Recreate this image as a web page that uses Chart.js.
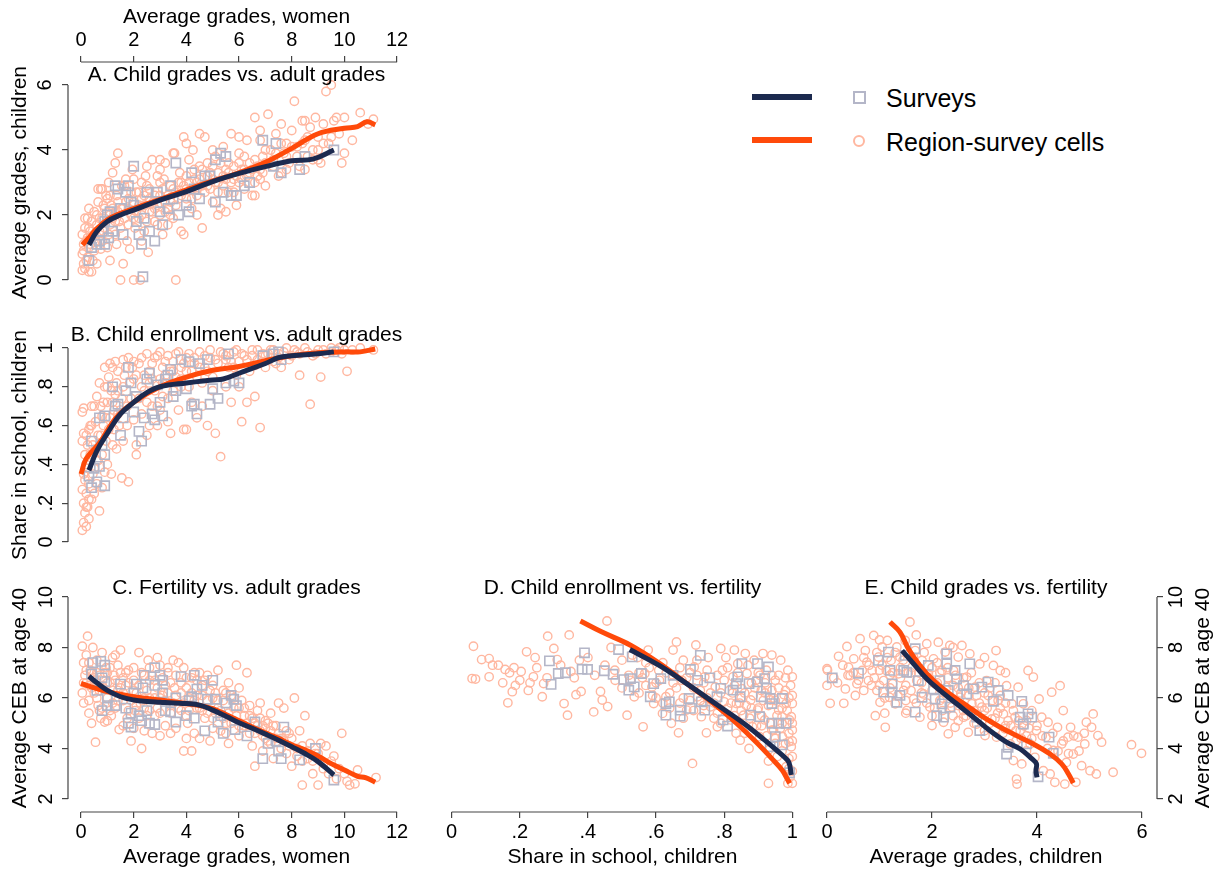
<!DOCTYPE html>
<html><head><meta charset="utf-8">
<script src="https://cdn.jsdelivr.net/npm/chart.js@4.4.1/dist/chart.umd.min.js"></script>
<style>
html,body{margin:0;padding:0;background:#fff;width:1224px;height:871px;overflow:hidden;position:relative;font-family:"Liberation Sans",Arial,Helvetica,sans-serif;}
canvas{position:absolute;}
.lg{position:absolute;}
.lt{position:absolute;font-size:25px;color:#000;line-height:30px;white-space:nowrap;}
</style></head><body>
<div class="lg" style="left:752px;top:94px;width:60px;height:6px;background:#1c2a4f"></div>
<div class="lg" style="left:853px;top:91px;width:9px;height:9px;border:2px solid #b4b6c8"></div>
<div class="lt" style="left:886px;top:83px">Surveys</div>
<div class="lg" style="left:752px;top:137px;width:60px;height:6px;background:#ff4a0a"></div>
<div class="lg" style="left:853px;top:135px;width:8px;height:8px;border:2px solid #ffb7a0;border-radius:50%"></div>
<div class="lt" style="left:886px;top:127px">Region-survey cells</div>
<script>
// ---------- tick values and labels ----------
const gradesWomenTicks = [0,2,4,6,8,10,12];
const gradesWomenLabels = ['0','2','4','6','8','10','12'];
const childGradesTicks = [0,2,4,6];
const childGradesLabels = ['0','2','4','6'];
const shareTicks = [0,0.2,0.4,0.6,0.8,1];
const shareLabels = ['0','.2','.4','.6','.8','1'];
const cebTicks = [2,4,6,8,10];
const cebLabels = ['2','4','6','8','10'];

// ---------- Panel A: child grades vs adult grades ----------
const A_survLine = [0.3,1.08, 0.6,1.49, 1.0,1.8, 1.5,2.0, 2.0,2.15, 3.0,2.46, 4.0,2.72, 5.0,3.03, 6.0,3.28, 7.0,3.49, 8.0,3.67, 8.8,3.72, 9.6,4.0];
const A_cellLine = [0.05,1.08, 0.3,1.3, 0.6,1.58, 1.0,1.85, 1.5,2.05, 2.0,2.2, 3.0,2.48, 4.0,2.77, 5.0,3.05, 6.0,3.3, 7.0,3.62, 8.0,4.05, 9.0,4.5, 10.0,4.67, 10.5,4.72, 10.86,4.87, 11.17,4.77];
const A_surv = [0.3,0.6, 0.4,1.0, 0.6,1.1, 0.7,1.2, 0.8,1.5, 0.9,1.8, 1.0,2.0, 1.05,1.3, 1.2,1.5, 1.3,2.9, 1.4,2.8, 1.5,2.2, 1.6,1.4, 1.7,2.7, 1.8,2.9, 1.9,2.4, 2.0,3.5, 2.0,2.3, 2.1,1.8, 2.2,1.4, 2.3,1.1, 2.35,0.1, 2.4,1.9, 2.5,2.7, 2.6,1.5, 2.8,1.2, 3.0,2.1, 3.1,1.7, 3.3,2.2, 3.4,2.9, 3.6,3.6, 3.7,2.0, 4.0,2.3, 4.1,2.1, 4.2,3.3, 4.3,2.8, 4.5,2.5, 4.7,3.2, 5.1,3.7, 5.1,2.4, 5.3,3.9, 5.4,2.7, 5.5,3.8, 5.7,2.6, 5.9,2.6, 6.2,2.9, 6.4,3.0, 6.9,4.3, 7.3,3.5, 7.4,4.2, 7.6,3.3, 8.3,3.4, 8.5,3.8, 9.6,4.0, 3.5,2.5, 2.9,2.7, 4.9,3.2, 1.1,2.1, 0.9,1.1];
const A_cells = [0.05,0.3, 0.1,0.5, 0.15,0.35, 0.1,0.9, 0.2,1.2, 0.05,1.4, 0.15,1.6, 0.3,0.25, 0.25,0.7, 0.3,1.0, 0.35,1.5, 0.4,1.8, 0.45,1.3, 0.5,2.1, 0.5,0.9, 0.6,1.7, 0.65,2.4, 0.7,1.2, 0.75,2.8, 0.8,1.9, 0.85,1.5, 0.9,2.2, 0.95,2.6, 1.0,1.0, 1.05,3.0, 1.1,1.7, 1.15,2.3, 1.2,3.3, 1.25,2.0, 1.3,1.4, 1.35,2.6, 1.4,3.9, 1.45,1.8, 1.5,0.0, 1.55,2.9, 1.6,0.5, 1.7,3.1, 1.75,1.2, 1.8,2.5, 1.85,0.95, 1.9,2.0, 1.95,3.4, 2.0,0.0, 2.05,1.6, 2.1,2.7, 2.2,2.3, 2.25,0.0, 2.3,3.0, 2.4,1.5, 2.5,2.9, 2.55,0.85, 2.6,2.1, 2.7,3.7, 2.75,2.4, 2.8,1.8, 2.9,3.2, 3.0,2.6, 3.1,1.4, 3.2,3.6, 3.3,2.2, 3.4,2.9, 3.5,1.9, 3.55,3.9, 3.6,0.0, 3.7,2.5, 3.75,3.3, 3.8,1.5, 3.9,4.4, 4.0,2.8, 4.1,3.7, 4.2,2.2, 4.25,4.0, 4.3,3.1, 4.4,2.6, 4.5,3.5, 4.6,1.6, 4.7,4.4, 4.8,2.9, 4.9,3.3, 5.0,2.4, 5.1,3.8, 5.2,3.0, 5.3,2.2, 5.4,4.1, 5.5,3.4, 5.6,2.7, 5.7,4.5, 5.8,3.1, 5.9,2.3, 6.0,3.9, 6.1,3.4, 6.2,2.8, 6.3,4.3, 6.4,3.6, 6.5,2.6, 6.6,5.0, 6.7,3.2, 6.8,4.6, 6.9,3.8, 7.0,2.9, 7.1,5.1, 7.2,4.0, 7.3,3.5, 7.4,4.5, 7.5,3.2, 7.6,4.8, 7.7,3.9, 7.8,4.2, 7.9,3.6, 8.0,4.6, 8.1,5.5, 8.2,4.1, 8.3,3.5, 8.4,4.9, 8.5,4.3, 8.6,3.8, 8.7,4.7, 8.8,4.0, 8.9,5.0, 9.0,4.4, 9.1,3.6, 9.2,4.8, 9.3,5.8, 9.4,4.2, 9.5,6.0, 9.6,4.9, 9.7,5.0, 9.8,4.5, 9.9,3.6, 10.0,5.0, 10.0,3.9, 10.3,4.3, 10.6,5.15, 11.1,4.95, 9.0,3.7, 8.5,4.9, 10.9,4.8, 1.2,1.9, 1.4,2.1, 1.6,2.2, 1.8,1.7, 2.0,2.4, 2.2,1.9, 2.4,2.6, 2.6,2.8, 2.8,2.2, 3.0,3.0, 3.2,2.4, 3.4,2.0, 3.6,2.7, 3.8,3.0, 4.0,3.2, 4.2,2.5, 4.4,3.0, 4.6,2.9, 4.8,3.6, 5.0,3.1, 5.2,2.7, 5.4,3.2, 5.6,3.6, 5.8,2.7, 6.0,3.0, 6.2,3.8, 6.4,3.3, 6.6,3.0, 6.8,3.4, 7.0,3.6, 0.3,1.6, 0.5,1.4, 0.7,1.9, 0.9,1.6, 1.1,2.1, 0.6,0.5, 0.4,0.25, 0.8,2.8, 1.0,2.5, 1.3,3.6, 2.3,1.2, 2.9,1.7, 3.3,1.7, 3.9,1.4, 4.4,2.0, 5.2,2.0, 5.5,2.1, 2.5,3.5, 3.0,3.7, 3.5,3.9, 4.0,4.2, 4.5,4.5, 5.0,4.0, 6.0,4.4, 6.8,4.3, 7.3,3.7, 7.8,3.4, 8.5,3.4, 6.6,2.6, 7.6,3.3,
  0.1,1.1, 0.2,0.6, 0.25,1.9, 0.35,1.1, 0.45,0.6, 0.55,1.2, 0.6,2.0, 0.7,1.5, 0.8,1.2, 0.85,2.3, 0.95,1.8, 1.05,1.4, 1.1,2.6, 1.2,2.2, 1.3,1.8, 1.4,2.4, 1.5,1.6, 1.55,2.2, 1.65,1.9, 1.7,2.4, 1.8,2.2, 1.9,2.7, 2.0,1.9, 2.1,2.1, 2.2,2.7, 2.3,2.0, 2.4,2.3, 2.5,1.8, 2.6,2.5, 2.7,2.1, 2.8,2.6, 2.9,2.3, 3.0,2.0, 3.1,2.8, 3.2,2.1, 3.3,2.6, 3.4,2.4, 3.5,2.8, 3.6,2.3, 3.7,3.0, 3.8,2.6, 3.9,2.9, 4.0,2.5, 4.1,3.0, 4.2,2.8, 4.3,3.4, 4.4,2.8, 4.5,3.1, 4.6,3.4, 4.7,2.7, 4.8,3.2, 4.9,2.8, 5.0,3.5, 5.1,3.0, 5.2,3.3, 5.3,3.6, 5.4,2.9, 5.5,3.1, 5.6,3.3, 5.7,3.0, 5.8,3.5, 5.9,3.2, 6.0,3.6, 6.1,3.1, 6.2,3.4, 6.3,3.2, 6.5,3.4, 6.6,3.7, 6.7,3.5, 6.8,3.1, 6.9,3.3, 7.0,4.0, 7.2,3.6, 7.4,3.9, 7.6,4.2, 7.8,3.8, 8.0,4.1, 8.2,3.8, 8.4,4.2, 8.6,4.4, 8.8,3.7, 9.0,4.0, 9.2,4.2, 9.5,4.4, 0.15,1.9, 0.25,1.3, 0.05,0.8, 0.3,2.2, 0.65,2.8, 0.75,0.95, 1.1,0.6, 1.35,1.1, 1.65,2.9, 2.0,3.1, 2.3,2.5, 2.45,3.2, 3.0,3.4, 3.15,3.1];

// ---------- Panel B: child enrollment vs adult grades ----------
const B_survLine = [0.3,0.37, 0.6,0.47, 1.0,0.56, 1.5,0.66, 2.0,0.72, 2.5,0.77, 3.0,0.80, 4.0,0.82, 5.0,0.835, 5.4,0.84, 6.0,0.87, 7.0,0.92, 7.5,0.95, 8.0,0.96, 9.0,0.97, 9.6,0.98];
const B_cellLine = [0.0,0.35, 0.2,0.43, 0.7,0.51, 1.33,0.64, 2.0,0.72, 3.0,0.80, 4.0,0.85, 5.0,0.885, 6.0,0.905, 7.0,0.935, 8.0,0.96, 9.0,0.975, 10.0,0.98, 10.6,0.98, 11.17,0.995];
const B_surv = [0.3,0.34, 0.4,0.28, 0.6,0.31, 0.5,0.38, 0.7,0.39, 0.9,0.29, 0.9,0.45, 0.8,0.5, 0.4,0.52, 0.7,0.64, 0.9,0.65, 1.2,0.8, 1.3,0.7, 1.4,0.71, 1.5,0.55, 1.6,0.64, 1.8,0.9, 1.7,0.78, 1.9,0.82, 2.1,0.75, 2.2,0.57, 2.3,0.52, 2.4,0.64, 2.5,0.84, 2.6,0.87, 2.7,0.66, 2.8,0.63, 3.0,0.72, 3.1,0.65, 3.2,0.84, 3.3,0.86, 3.4,0.89, 3.5,0.75, 3.6,0.78, 3.8,0.94, 4.0,0.79, 4.1,0.93, 4.2,0.7, 4.3,0.71, 4.4,0.66, 4.5,0.92, 4.8,0.94, 4.9,0.71, 5.0,0.79, 5.2,0.74, 5.5,0.82, 5.8,0.83, 6.0,0.82, 5.6,0.97, 6.9,0.96, 7.3,0.97, 7.5,0.98, 7.6,0.94, 9.6,0.98, 2.0,0.67, 2.9,0.81];
const B_cells = [0.05,0.06, 0.1,0.1, 0.15,0.15, 0.2,0.08, 0.1,0.2, 0.05,0.27, 0.2,0.25, 0.15,0.32, 0.25,0.18, 0.3,0.12, 0.05,0.52, 0.1,0.56, 0.05,0.67, 0.1,0.69, 0.2,0.4, 0.3,0.3, 0.35,0.45, 0.4,0.22, 0.45,0.5, 0.5,0.38, 0.55,0.62, 0.6,0.3, 0.65,0.55, 0.7,0.16, 0.75,0.7, 0.8,0.45, 0.85,0.6, 0.9,0.8, 0.95,0.52, 1.0,0.72, 1.05,0.85, 1.1,0.64, 1.15,0.35, 1.2,0.9, 1.25,0.58, 1.3,0.76, 1.35,0.48, 1.4,0.88, 1.5,0.68, 1.55,0.33, 1.6,0.8, 1.7,0.9, 1.75,0.6, 1.8,0.31, 1.9,0.74, 2.0,0.84, 2.1,0.5, 2.2,0.92, 2.3,0.66, 2.4,0.78, 2.5,0.55, 2.6,0.88, 2.7,0.7, 2.8,0.95, 2.9,0.6, 3.0,0.84, 3.1,0.75, 3.2,0.93, 3.3,0.62, 3.4,0.88, 3.5,0.78, 3.6,0.97, 3.7,0.68, 3.8,0.9, 3.9,0.58, 4.0,0.95, 4.1,0.8, 4.2,0.72, 4.3,0.92, 4.4,0.85, 4.5,0.98, 4.6,0.7, 4.7,0.9, 4.8,0.6, 4.9,0.95, 5.0,0.85, 5.1,0.56, 5.2,0.92, 5.3,0.44, 5.4,0.97, 5.5,0.8, 5.6,0.9, 5.7,0.72, 5.8,0.98, 5.9,0.86, 6.0,0.93, 6.1,0.62, 6.2,0.96, 6.4,0.88, 6.5,0.99, 6.6,0.75, 6.7,0.94, 6.8,0.59, 6.9,0.97, 7.0,0.9, 7.2,0.99, 7.3,0.93, 7.5,0.97, 7.6,0.9, 7.8,1.0, 8.0,0.96, 8.2,0.98, 8.3,0.86, 8.5,1.0, 8.7,0.71, 8.8,0.96, 9.0,0.99, 9.1,0.85, 9.3,0.97, 9.5,1.0, 9.7,0.99, 9.9,0.97, 10.1,0.88, 10.3,0.99, 10.6,1.0, 11.1,0.99, 0.4,0.6, 0.6,0.42, 0.8,0.28, 0.3,0.58, 1.0,0.4, 1.2,0.5, 1.4,0.66, 1.6,0.52, 2.0,0.63, 2.2,0.74, 2.4,0.86, 2.6,0.6, 2.8,0.78, 3.0,0.68, 3.2,0.82, 3.5,0.88, 3.8,0.8, 4.2,0.88, 4.6,0.82, 5.0,0.78, 5.5,0.94, 6.0,0.8, 6.3,0.72, 7.0,0.96, 0.9,0.36, 0.5,0.25, 0.25,0.5, 1.3,0.93, 2.1,0.45, 3.4,0.56, 4.4,0.64, 4.0,0.58, 1.8,0.95, 3.0,0.98,
  2.0,0.93, 2.3,0.95, 2.5,0.97, 2.7,0.92, 2.9,0.96, 3.1,0.9, 3.3,0.96, 3.5,0.93, 3.7,0.98, 3.9,0.92, 4.1,0.97, 4.3,0.95, 4.5,0.9, 4.7,0.96, 4.9,0.99, 5.1,0.94, 5.3,0.98, 5.5,0.96, 5.7,0.93, 5.9,0.99, 6.1,0.97, 6.3,0.94, 6.5,0.96, 6.7,0.99, 6.9,0.93, 7.1,0.97, 7.3,0.99, 7.5,0.95, 7.7,0.98, 7.9,0.94, 8.1,0.99, 8.3,0.97, 8.6,0.98, 8.9,0.97, 9.2,0.99, 9.5,0.98, 9.8,1.0, 10.0,0.99, 3.8,0.84, 4.8,0.88, 5.8,0.9, 6.6,0.91, 7.4,0.92, 2.6,0.82, 3.2,0.86, 4.0,0.88, 0.15,0.45, 0.25,0.38, 0.35,0.6, 0.45,0.35, 0.55,0.48, 0.65,0.42, 0.75,0.55, 0.85,0.72, 0.95,0.64, 1.05,0.58, 1.15,0.78, 1.25,0.68, 1.35,0.82, 1.45,0.6, 1.55,0.74, 1.65,0.86, 1.75,0.7, 1.85,0.82, 1.95,0.9, 0.5,0.7, 0.7,0.82, 0.9,0.9, 1.1,0.92, 0.3,0.42, 0.2,0.55, 0.4,0.7, 0.6,0.75, 0.8,0.65, 1.0,0.8, 1.2,0.72, 1.4,0.78, 1.6,0.94, 2.1,0.86, 2.3,0.8, 2.5,0.72, 2.7,0.84, 2.9,0.7, 3.1,0.82, 3.3,0.74, 3.6,0.85, 0.1,0.35, 0.2,0.18, 0.3,0.22];

// ---------- Panel C: fertility vs adult grades ----------
const C_survLine = [0.3,6.86, 0.6,6.6, 1.0,6.3, 1.5,6.05, 2.0,5.92, 2.5,5.86, 3.0,5.83, 3.5,5.8, 4.0,5.78, 4.5,5.72, 5.0,5.52, 5.5,5.28, 6.0,5.02, 6.5,4.8, 7.0,4.57, 7.5,4.33, 8.0,4.07, 8.5,3.8, 9.0,3.48, 9.6,2.95];
const C_cellLine = [0.0,6.58, 0.5,6.4, 1.0,6.25, 1.5,6.15, 2.0,6.05, 3.0,5.92, 4.0,5.78, 4.5,5.7, 5.0,5.58, 5.5,5.35, 6.0,5.1, 6.5,4.85, 7.0,4.62, 7.5,4.4, 8.0,4.15, 8.5,3.95, 9.0,3.7, 9.5,3.4, 10.0,3.15, 10.5,2.9, 10.8,2.85, 11.17,2.66];
const C_surv = [0.45,7.4, 0.75,7.45, 0.9,7.3, 0.4,6.95, 0.6,6.3, 0.8,6.8, 0.9,6.65, 1.0,6.0, 0.8,5.5, 1.0,5.7, 1.3,5.7, 1.5,6.55, 1.7,5.6, 1.8,5.0, 1.9,4.85, 1.9,5.4, 2.0,6.2, 2.1,6.55, 2.2,5.3, 2.3,5.1, 2.35,6.4, 2.4,6.9, 2.5,5.5, 2.6,5.0, 2.8,7.2, 2.8,6.5, 2.8,4.95, 3.0,6.9, 3.1,6.7, 3.1,6.2, 3.2,5.5, 3.4,5.45, 3.6,5.05, 3.6,6.0, 3.8,6.85, 4.0,5.3, 4.1,5.9, 4.2,6.05, 4.3,6.9, 4.3,5.2, 4.4,6.35, 4.6,6.5, 4.7,4.7, 4.8,5.95, 5.0,6.7, 5.1,5.95, 5.2,5.05, 5.3,5.3, 5.4,4.6, 5.5,5.8, 5.7,6.1, 5.8,5.95, 5.85,4.75, 5.9,5.7, 6.3,4.5, 6.6,5.05, 6.9,3.6, 7.1,4.2, 7.4,4.3, 7.5,3.9, 7.6,3.6, 7.7,4.85, 8.3,3.55, 8.9,4.0, 9.6,2.75];
const C_cells = [0.05,8.05, 0.1,7.4, 0.15,6.9, 0.05,6.2, 0.1,5.8, 0.2,7.7, 0.25,8.45, 0.3,6.5, 0.3,5.4, 0.35,7.1, 0.4,5.0, 0.45,8.0, 0.5,6.2, 0.55,4.25, 0.6,7.5, 0.65,5.7, 0.7,6.9, 0.75,5.2, 0.8,7.8, 0.85,6.4, 0.9,5.05, 0.95,7.2, 1.0,6.0, 1.1,6.6, 1.15,5.3, 1.2,7.6, 1.25,6.9, 1.3,5.6, 1.4,7.3, 1.45,4.75, 1.5,6.4, 1.6,5.9, 1.7,7.0, 1.75,5.2, 1.8,6.6, 1.9,4.3, 2.0,7.2, 2.05,5.5, 2.1,6.2, 2.2,7.8, 2.25,5.8, 2.3,4.0, 2.4,6.9, 2.5,5.3, 2.55,7.5, 2.6,6.0, 2.7,4.6, 2.8,6.7, 2.9,5.6, 3.0,7.3, 3.1,6.1, 3.2,4.9, 3.3,7.0, 3.4,5.7, 3.5,7.5, 3.55,6.4, 3.6,4.8, 3.7,7.4, 3.8,5.5, 3.9,3.9, 4.0,6.8, 4.05,5.0, 4.1,6.0, 4.2,3.9, 4.3,7.0, 4.4,5.6, 4.5,4.4, 4.6,6.5, 4.7,5.2, 4.8,6.9, 4.9,4.3, 5.0,6.0, 5.1,5.4, 5.2,7.1, 5.3,4.7, 5.4,6.3, 5.5,5.0, 5.6,4.2, 5.7,6.1, 5.8,5.6, 5.9,7.3, 6.0,4.5, 6.1,5.9, 6.2,4.9, 6.3,7.0, 6.4,5.3, 6.5,4.1, 6.6,3.3, 6.7,5.5, 6.8,4.7, 6.9,3.9, 7.0,5.1, 7.1,4.3, 7.2,5.4, 7.3,3.6, 7.4,4.9, 7.5,5.8, 7.6,4.4, 7.7,5.6, 7.8,3.8, 7.9,4.6, 8.0,3.3, 8.1,6.0, 8.2,4.0, 8.3,4.7, 8.4,2.55, 8.5,5.3, 8.6,3.6, 8.7,4.2, 8.8,3.0, 8.9,3.8, 9.0,2.55, 9.1,4.2, 9.2,3.4, 9.4,3.0, 9.6,3.7, 9.7,2.8, 9.9,4.6, 10.0,3.0, 10.2,2.55, 10.5,3.15, 10.4,2.6, 11.2,2.85, 9.3,4.1, 8.4,3.5, 0.2,6.6, 0.4,7.0, 0.6,6.0, 0.8,5.6, 1.0,7.0, 1.2,6.3, 1.4,5.9, 1.6,6.8, 1.8,5.5, 2.0,6.3, 2.2,5.2, 2.4,6.0, 2.6,6.7, 2.8,5.3, 3.0,6.0, 3.2,6.5, 3.4,5.4, 3.6,6.1, 3.8,6.6, 4.0,5.3, 4.2,6.2, 4.4,6.7, 4.6,5.5, 4.8,5.9, 5.0,6.5, 5.2,5.6, 5.4,5.9, 5.6,6.6, 5.8,5.1, 6.0,6.4, 6.2,5.6, 6.4,4.6, 6.6,5.0, 6.8,5.8, 7.0,4.8, 7.2,4.2, 1.5,7.9, 2.6,7.2, 3.3,7.2, 4.5,7.0, 3.0,4.5, 2.0,4.8, 1.0,5.1, 5.5,4.6, 4.0,4.4,
  0.1,6.6, 0.2,7.1, 0.3,7.4, 0.4,6.4, 0.5,6.8, 0.6,7.0, 0.7,6.3, 0.8,6.5, 0.9,7.0, 1.0,6.6, 1.1,7.2, 1.2,5.8, 1.3,6.7, 1.4,6.3, 1.5,7.0, 1.6,6.2, 1.7,6.5, 1.8,7.1, 1.9,5.9, 2.0,6.7, 2.1,5.7, 2.2,6.5, 2.3,7.0, 2.4,5.6, 2.5,6.3, 2.6,5.5, 2.7,6.9, 2.8,6.0, 2.9,6.4, 3.0,5.4, 3.1,6.8, 3.2,5.9, 3.3,6.2, 3.4,6.6, 3.5,5.8, 3.6,6.9, 3.7,5.6, 3.8,6.2, 3.9,5.8, 4.0,6.4, 4.1,5.5, 4.2,6.8, 4.3,5.9, 4.4,6.1, 4.5,5.6, 4.6,6.1, 4.7,6.7, 4.8,5.4, 4.9,6.3, 5.0,5.2, 5.1,6.2, 5.2,5.9, 5.3,5.5, 5.4,5.2, 5.5,6.2, 5.6,5.4, 5.7,5.0, 5.8,6.0, 5.9,5.3, 6.0,5.6, 6.1,4.8, 6.2,5.3, 6.3,5.0, 6.4,5.7, 6.5,5.2, 6.6,4.6, 6.7,4.9, 6.8,5.2, 6.9,4.5, 7.0,4.4, 7.1,5.0, 7.2,4.7, 7.3,4.9, 7.4,4.4, 7.5,4.6, 7.6,4.0, 7.7,4.3, 7.8,4.7, 7.9,4.1, 8.0,4.4, 8.2,3.7, 8.4,4.1, 8.6,3.9, 8.8,3.5, 9.0,3.8, 9.2,3.2, 9.5,3.5, 9.8,3.2, 10.1,2.7, 1.3,7.7, 2.9,7.6, 3.9,7.2, 0.3,5.9, 0.7,5.5, 1.1,5.5, 1.6,4.9, 2.4,4.7, 3.4,4.6, 4.3,4.6, 5.0,4.8, 6.0,4.9, 6.9,4.9];

// ---------- Panel D: child enrollment vs fertility ----------
const D_survLine = [0.523,7.92, 0.608,7.3, 0.69,6.57, 0.774,5.78, 0.857,5.0, 0.919,4.33, 0.955,3.92, 0.975,3.68, 0.99,3.45, 0.997,2.95];
const D_cellLine = [0.378,9.05, 0.44,8.62, 0.525,8.09, 0.61,7.37, 0.69,6.57, 0.774,5.72, 0.836,5.0, 0.898,4.2, 0.94,3.6, 0.97,3.15, 0.987,2.75, 0.992,2.62];
const D_surv = [0.287,7.47, 0.292,6.54, 0.313,6.97, 0.334,7.0, 0.383,7.14, 0.39,7.79, 0.399,7.13, 0.448,7.08, 0.474,6.94, 0.49,7.92, 0.505,6.73, 0.52,6.31, 0.525,6.77, 0.53,7.63, 0.536,6.44, 0.557,6.97, 0.583,6.05, 0.593,6.57, 0.614,6.77, 0.629,5.78, 0.629,5.32, 0.639,5.85, 0.65,6.9, 0.671,5.52, 0.671,5.28, 0.697,5.98, 0.701,5.59, 0.701,7.13, 0.722,6.7, 0.73,7.69, 0.733,5.85, 0.743,5.52, 0.758,6.8, 0.779,6.05, 0.79,6.38, 0.797,5.13, 0.81,4.89, 0.826,6.31, 0.836,6.57, 0.84,6.84, 0.847,6.05, 0.852,7.36, 0.873,6.57, 0.878,5.32, 0.898,7.36, 0.898,6.64, 0.904,5.26, 0.909,6.05, 0.919,6.77, 0.924,6.38, 0.93,7.23, 0.935,5.98, 0.94,5.0, 0.95,4.47, 0.96,5.0, 0.971,5.98, 0.971,4.14, 0.982,5.0, 0.992,3.04, 0.935,4.07, 0.94,5.78];
const D_cells = [0.064,8.05, 0.06,6.77, 0.07,6.75, 0.088,7.52, 0.11,7.56, 0.11,6.84, 0.137,7.3, 0.157,7.13, 0.165,5.81, 0.178,6.25, 0.183,7.2, 0.187,6.5, 0.204,7.05, 0.22,7.83, 0.225,6.3, 0.24,6.84, 0.245,7.6, 0.266,6.05, 0.27,6.57, 0.282,8.45, 0.3,7.96, 0.31,7.52, 0.33,5.78, 0.34,5.32, 0.345,8.5, 0.35,7.05, 0.365,6.13, 0.375,7.5, 0.38,6.26, 0.417,5.45, 0.437,6.26, 0.442,5.92, 0.456,9.05, 0.458,5.66, 0.468,8.0, 0.479,7.1, 0.5,7.5, 0.515,5.32, 0.525,6.7, 0.536,6.05, 0.546,7.6, 0.562,4.86, 0.567,6.97, 0.577,7.9, 0.588,6.44, 0.593,5.78, 0.608,7.1, 0.619,5.39, 0.629,6.05, 0.645,5.0, 0.65,7.9, 0.66,8.22, 0.666,4.62, 0.676,6.7, 0.68,7.5, 0.69,5.52, 0.707,3.41, 0.712,7.23, 0.717,8.1, 0.722,6.05, 0.733,5.26, 0.743,6.84, 0.748,4.62, 0.753,7.6, 0.76,5.65, 0.774,6.44, 0.78,4.86, 0.79,7.96, 0.795,7.1, 0.8,5.85, 0.805,7.6, 0.815,6.3, 0.82,5.13, 0.826,6.84, 0.83,7.9, 0.836,5.78, 0.84,7.36, 0.847,4.33, 0.852,6.37, 0.857,5.32, 0.862,7.76, 0.867,6.97, 0.873,4.0, 0.878,5.92, 0.883,4.86, 0.888,7.5, 0.893,6.7, 0.898,5.52, 0.904,4.47, 0.909,6.3, 0.914,7.76, 0.919,5.13, 0.924,7.1, 0.93,2.62, 0.93,3.94, 0.935,5.92, 0.94,7.7, 0.945,4.73, 0.95,6.7, 0.956,3.68, 0.96,5.52, 0.966,7.5, 0.971,4.47, 0.976,6.13, 0.982,3.28, 0.987,7.1, 0.992,5.13, 0.994,2.88, 0.997,4.07, 1.0,5.78, 1.0,6.84, 1.0,2.62, 1.0,4.73, 1.0,3.68, 0.987,2.62, 1.0,6.1, 0.99,4.27, 0.997,5.26, 0.982,5.78, 0.97,5.26, 0.94,4.73, 0.95,4.2, 0.85,6.0, 0.88,6.6, 0.9,5.6, 0.92,6.2, 0.94,6.9, 0.96,6.4, 0.98,6.8, 0.97,5.0, 0.99,6.0, 0.83,5.3, 0.8,6.7, 0.76,6.2, 0.72,6.9, 0.7,5.9, 0.66,6.4, 0.63,7.0, 0.6,6.6, 0.57,7.4, 0.55,6.2, 0.53,7.7, 0.5,6.4, 0.64,5.6, 0.68,5.2, 0.74,5.7, 0.78,5.4, 0.86,4.6, 0.91,4.9, 0.95,4.4, 0.93,3.5, 0.97,3.9, 0.99,3.2,
  0.56,6.8, 0.58,7.2, 0.59,6.1, 0.61,6.7, 0.62,7.4, 0.64,6.2, 0.65,6.9, 0.67,7.2, 0.68,6.0, 0.69,6.8, 0.71,6.4, 0.72,7.5, 0.73,5.9, 0.74,6.6, 0.75,7.1, 0.77,5.8, 0.78,6.9, 0.79,6.2, 0.81,7.2, 0.82,5.8, 0.83,6.5, 0.84,7.0, 0.85,5.5, 0.86,6.2, 0.87,7.3, 0.88,5.6, 0.89,6.4, 0.9,7.0, 0.91,5.3, 0.92,6.6, 0.93,5.7, 0.94,6.3, 0.95,5.9, 0.96,6.9, 0.97,5.6, 0.98,6.3, 0.99,4.6, 0.985,5.5, 0.995,6.5, 1.0,5.0, 1.0,4.3, 1.0,3.1, 0.99,3.6, 0.98,4.2, 0.965,4.8, 0.955,5.3, 0.945,6.0, 0.935,5.0, 0.925,4.5, 0.915,5.9, 0.905,6.9, 0.895,4.9, 0.885,6.1, 0.875,5.2, 0.865,5.7, 0.845,5.8, 0.835,4.6, 0.825,6.2, 0.81,5.6, 0.79,5.0, 0.77,5.2, 0.75,6.0, 0.73,6.3, 0.71,5.5, 0.7,7.0, 0.67,5.8, 0.65,6.6, 0.62,5.8, 0.6,6.0, 0.57,6.5, 0.55,7.0, 0.52,6.9, 0.48,6.7, 0.45,7.3, 0.42,6.9, 0.4,7.6, 0.36,6.8, 0.32,7.3, 0.28,6.8, 0.25,7.2, 0.23,6.6, 0.2,6.7, 0.17,7.0, 0.15,6.6, 0.12,7.3];

// ---------- Panel E: child grades vs fertility ----------
const E_survLine = [1.43,7.88, 1.65,7.35, 1.9,6.76, 2.15,6.3, 2.47,5.77, 2.79,5.24, 3.1,4.71, 3.42,4.25, 3.68,3.98, 3.9,3.6, 3.99,3.39, 3.98,3.12, 4.0,2.86];
const E_cellLine = [1.2,9.01, 1.39,8.61, 1.55,7.95, 1.77,7.29, 2.03,6.69, 2.34,6.16, 2.66,5.7, 2.98,5.24, 3.3,4.84, 3.61,4.51, 3.93,4.18, 4.25,3.78, 4.47,3.39, 4.6,2.99, 4.69,2.63];
const E_surv = [0.1,6.8, 0.6,6.98, 0.98,7.49, 1.08,6.23, 1.17,7.82, 1.2,7.09, 1.24,6.56, 1.24,6.23, 1.33,5.83, 1.39,6.1, 1.46,7.09, 1.49,7.69, 1.52,7.02, 1.68,7.95, 1.68,5.44, 1.74,6.69, 1.81,6.03, 1.93,7.29, 2.03,6.36, 2.06,5.96, 2.09,5.3, 2.15,6.69, 2.19,5.77, 2.22,5.24, 2.28,7.35, 2.28,7.75, 2.31,6.3, 2.34,5.64, 2.44,7.09, 2.47,6.76, 2.6,6.49, 2.66,6.16, 2.72,7.35, 2.79,6.36, 2.85,5.24, 2.91,4.71, 2.95,6.43, 3.07,6.63, 3.17,5.87, 3.26,6.3, 3.45,6.1, 3.42,3.78, 3.45,4.05, 3.68,5.24, 3.71,5.87, 3.74,4.97, 3.83,5.37, 3.9,5.24, 3.8,4.18, 4.02,2.88, 4.23,4.45, 4.31,3.81];
const E_cells = [0.0,7.16, 0.0,6.5, 0.01,7.1, 0.06,5.79, 0.13,6.8, 0.22,7.65, 0.32,5.79, 0.35,6.36, 0.38,8.04, 0.41,7.22, 0.44,6.89, 0.51,7.55, 0.54,6.1, 0.57,6.56, 0.63,8.35, 0.67,7.09, 0.7,6.3, 0.73,7.88, 0.76,7.42, 0.79,6.69, 0.86,7.09, 0.89,8.48, 0.92,5.3, 0.95,6.3, 0.98,7.62, 1.01,5.83, 1.05,8.02, 1.08,6.69, 1.11,4.84, 1.13,7.09, 1.15,8.28, 1.19,6.03, 1.22,7.49, 1.25,6.56, 1.3,5.77, 1.33,8.02, 1.36,6.96, 1.39,7.62, 1.46,6.3, 1.49,8.28, 1.52,5.5, 1.58,9.01, 1.62,7.22, 1.65,5.96, 1.68,7.88, 1.71,6.69, 1.77,5.24, 1.81,7.49, 1.84,6.16, 1.9,8.15, 1.93,6.96, 1.96,5.64, 2.0,4.91, 2.03,7.55, 2.06,6.56, 2.12,8.21, 2.15,5.9, 2.19,7.09, 2.22,5.04, 2.25,7.82, 2.28,6.43, 2.31,4.58, 2.34,8.08, 2.38,5.64, 2.41,7.09, 2.44,4.84, 2.5,7.62, 2.53,6.03, 2.57,8.08, 2.6,5.24, 2.66,6.83, 2.69,4.64, 2.72,7.75, 2.76,5.77, 2.82,6.43, 2.85,4.97, 2.91,7.35, 2.95,5.64, 3.01,4.51, 3.04,6.69, 3.07,6.1, 3.14,5.17, 3.17,7.29, 3.22,7.88, 3.23,4.45, 3.26,5.9, 3.3,7.09, 3.36,5.37, 3.39,4.78, 3.42,6.49, 3.49,4.18, 3.52,5.77, 3.55,3.52, 3.58,5.24, 3.61,2.79, 3.62,2.59, 3.64,6.43, 3.68,4.71, 3.71,3.39, 3.74,5.77, 3.8,5.11, 3.83,7.09, 3.87,4.18, 3.9,5.5, 3.93,6.83, 3.96,3.65, 3.99,4.71, 4.04,5.96, 4.09,5.24, 4.12,3.12, 4.17,4.45, 4.21,5.04, 4.25,2.99, 4.28,6.23, 4.31,3.92, 4.34,2.66, 4.39,4.84, 4.44,6.49, 4.47,4.18, 4.5,5.5, 4.53,2.59, 4.56,3.45, 4.59,4.45, 4.64,4.84, 4.69,3.78, 4.74,2.66, 4.78,4.45, 4.85,3.32, 4.91,4.18, 4.94,5.04, 5.01,3.12, 5.04,4.84, 5.07,5.37, 5.13,2.99, 5.16,4.51, 5.23,4.25, 5.45,3.06, 5.8,4.15, 5.99,3.81, 2.3,6.8, 2.5,6.4, 2.7,6.1, 2.9,5.8, 2.2,6.0, 2.0,6.3, 1.8,6.6, 1.6,7.0, 1.4,7.2, 1.2,6.9, 1.0,7.1, 0.9,6.8, 2.6,5.5, 3.0,5.5, 3.2,5.2, 3.4,4.9, 3.6,4.7, 3.8,4.5, 2.4,5.3, 2.8,5.0, 3.3,6.1, 3.1,6.4, 2.1,7.4, 1.5,6.5,
  0.8,7.3, 0.85,6.5, 0.95,7.8, 1.0,6.5, 1.05,7.3, 1.1,6.0, 1.15,7.6, 1.2,6.4, 1.25,7.0, 1.3,7.8, 1.35,6.1, 1.4,6.8, 1.45,7.5, 1.5,5.9, 1.55,7.0, 1.6,6.3, 1.65,7.6, 1.7,5.8, 1.75,7.0, 1.8,6.2, 1.85,7.8, 1.9,5.8, 1.95,6.8, 2.0,7.2, 2.05,5.6, 2.1,6.6, 2.15,7.0, 2.2,5.5, 2.25,6.2, 2.3,7.2, 2.35,5.8, 2.4,6.5, 2.45,6.9, 2.5,5.7, 2.55,6.2, 2.6,6.8, 2.65,5.3, 2.7,6.4, 2.75,7.0, 2.8,5.5, 2.85,6.1, 2.9,6.6, 2.95,5.1, 3.0,6.2, 3.05,5.6, 3.1,5.0, 3.15,5.9, 3.2,6.6, 3.25,5.4, 3.3,5.6, 3.35,4.6, 3.4,5.8, 3.45,5.1, 3.5,4.9, 3.55,5.5, 3.6,4.3, 3.65,5.1, 3.7,4.4, 3.75,4.9, 3.8,3.9, 3.85,4.8, 3.9,4.4, 4.0,4.9, 4.1,4.5, 4.2,4.0, 4.3,4.6, 4.4,3.9, 4.5,4.3, 4.6,3.8, 4.7,4.5, 4.8,3.9, 4.9,4.6, 0.5,7.0, 0.6,6.7, 0.7,7.6, 0.4,6.9, 0.3,7.3, 0.2,6.6, 1.1,5.4, 1.5,5.4, 2.0,5.3, 2.5,5.1, 3.0,4.7, 1.0,8.3, 1.7,8.5, 2.4,8.0, 3.0,7.6, 3.4,7.0];

// ---------- styles ----------
const FONT = '"Liberation Sans", Arial, Helvetica, sans-serif';
const NAVY = '#1c2a4f', ORANGE = '#ff4a0a', CELL = '#ffb7a0', SURV = '#b4b6c8', AX = '#444';

function pts(a){ const r=[]; for(let i=0;i<a.length;i+=2) r.push({x:a[i], y:a[i+1]}); return r; }

function axis(o){
  const vertical = (o.pos==='left' || o.pos==='right');
  return {
    type:'linear', position:o.pos, display:o.show!==false, min:o.min, max:o.max,
    afterBuildTicks: s => { s.ticks = o.ticks.map(v => ({value:v})); },
    afterFit: s => { if (vertical) s.width = o.size; else s.height = o.size; },
    grid:{display:true, drawOnChartArea:false, drawTicks:true, tickLength:6, color:AX, lineWidth:1.2},
    border:{display:false},
    ticks:{ autoSkip:false, font:{family:FONT, size:20}, color:'#000', padding:o.tpad||0,
      minRotation: vertical?90:0, maxRotation: vertical?90:0, crossAlign: vertical?'center':'near',
      callback: v => o.labels[o.ticks.indexOf(v)] },
    title:{display:!!o.title, text:o.title||'', font:{family:FONT, size:21}, color:'#000', padding:o.titlePad||0}
  };
}

const axisLine = { id:'axisLine', afterDraw(chart){
  const ctx = chart.ctx; ctx.save(); ctx.strokeStyle = AX; ctx.lineWidth = 1.2;
  Object.values(chart.scales).forEach(s => {
    if (!s.options.display || !s.ticks.length) return;
    const a = s.getPixelForValue(s.ticks[0].value), b = s.getPixelForValue(s.ticks[s.ticks.length-1].value);
    ctx.beginPath();
    if (s.isHorizontal()) { const y = s.position==='top' ? s.bottom : s.top; ctx.moveTo(a,y); ctx.lineTo(b,y); }
    else { const x = s.position==='left' ? s.right : s.left; ctx.moveTo(x,a); ctx.lineTo(x,b); }
    ctx.stroke();
  });
  ctx.restore();
}};

const panelText = { id:'panelText', afterDraw(chart, args, opts){
  const ctx = chart.ctx, ca = chart.chartArea; ctx.save();
  ctx.font = '21px ' + FONT; ctx.fillStyle = '#000'; ctx.textAlign = 'center'; ctx.textBaseline = 'middle';
  if (opts.text) ctx.fillText(opts.text, (ca.left+ca.right)/2, opts.y);
  if (opts.rightTitle) {
    const s = chart.scales.y;
    const cy = (s.getPixelForValue(s.ticks[0].value) + s.getPixelForValue(s.ticks[s.ticks.length-1].value))/2;
    ctx.translate(opts.rx, cy); ctx.rotate(-Math.PI/2); ctx.fillText(opts.rightTitle, 0, 0);
  }
  ctx.restore();
}};

function panel(cfg){
  const [L,T,W,H] = cfg.box;
  const cv = document.createElement('canvas');
  cv.width = W; cv.height = H;
  cv.style.left = L+'px'; cv.style.top = T+'px'; cv.style.width = W+'px'; cv.style.height = H+'px';
  document.body.appendChild(cv);
  const lineDs = (data, color, order) => ({data:pts(data), showLine:true, borderColor:color, borderWidth:5, pointRadius:0, tension:0.4, borderCapStyle:'butt', fill:false, order, clip:false});
  new Chart(cv.getContext('2d'), {
    type:'scatter',
    data:{ datasets:[
      lineDs(cfg.survLine, NAVY, 0),
      lineDs(cfg.cellLine, ORANGE, 1),
      {data:pts(cfg.surv), pointStyle:'rect', pointRadius:6.5, borderWidth:1.6, borderColor:SURV, backgroundColor:'rgba(0,0,0,0)', order:2, clip:false},
      {data:pts(cfg.cells), pointStyle:'circle', pointRadius:4.2, borderWidth:1.4, borderColor:CELL, backgroundColor:'rgba(0,0,0,0)', order:3, clip:false}
    ]},
    options:{
      responsive:false, animation:false, devicePixelRatio:1, events:[],
      layout:{padding:cfg.pad},
      scales:{ x:axis(cfg.x), y:axis(cfg.y) },
      plugins:{ legend:{display:false}, tooltip:{enabled:false}, panelText:cfg.text }
    },
    plugins:[axisLine, panelText]
  });
}

// Panel A  (chart area: x 68..405, y 62..303)
panel({ box:[0,0,420,326], pad:{left:0,right:15,top:0,bottom:0},
  x:{pos:'top', min:-0.494, max:12.30, ticks:gradesWomenTicks, labels:gradesWomenLabels, size:62, tpad:4, title:'Average grades, women', titlePad:{top:5,bottom:0}},
  y:{pos:'left', min:-0.708, max:6.708, ticks:childGradesTicks, labels:childGradesLabels, size:68, tpad:11, title:'Average grades, children', titlePad:{top:8,bottom:0}},
  text:{text:'A. Child grades vs. adult grades', y:75},
  survLine:A_survLine, cellLine:A_cellLine, surv:A_surv, cells:A_cells });

// Panel B  (chart area: x 68..405, y 330..560)
panel({ box:[0,300,420,279], pad:{left:0,right:15,top:30,bottom:0},
  x:{pos:'bottom', show:false, min:-0.494, max:12.30, ticks:gradesWomenTicks, labels:gradesWomenLabels, size:0},
  y:{pos:'left', min:-0.0928, max:1.0928, ticks:shareTicks, labels:shareLabels, size:68, tpad:7, title:'Share in school, children', titlePad:{top:8,bottom:0}},
  text:{text:'B. Child enrollment vs. adult grades', y:35},
  survLine:B_survLine, cellLine:B_cellLine, surv:B_surv, cells:B_cells });

// Panel C
panel({ box:[0,565,420,306], pad:{left:0,right:15,top:19,bottom:0},
  x:{pos:'bottom', min:-0.494, max:12.30, ticks:gradesWomenTicks, labels:gradesWomenLabels, size:59, tpad:2, title:'Average grades, women', titlePad:{top:0,bottom:1}},
  y:{pos:'left', min:1.485, max:10.515, ticks:cebTicks, labels:cebLabels, size:68, tpad:4, title:'Average CEB at age 40', titlePad:{top:8,bottom:0}},
  text:{text:'C. Fertility vs. adult grades', y:23},
  survLine:C_survLine, cellLine:C_cellLine, surv:C_surv, cells:C_cells });

// Panel D
panel({ box:[420,565,400,306], pad:{left:20,right:15,top:19,bottom:0},
  x:{pos:'bottom', min:-0.0342, max:1.0373, ticks:shareTicks, labels:shareLabels, size:59, tpad:2, title:'Share in school, children', titlePad:{top:0,bottom:1}},
  y:{pos:'left', show:false, min:1.485, max:10.515, ticks:cebTicks, labels:cebLabels, size:0},
  text:{text:'D. Child enrollment vs. fertility', y:23},
  survLine:D_survLine, cellLine:D_cellLine, surv:D_surv, cells:D_cells });

// Panel E
panel({ box:[800,565,424,306], pad:{left:15,right:0,top:19,bottom:0},
  x:{pos:'bottom', min:-0.2286, max:6.2857, ticks:childGradesTicks, labels:childGradesLabels, size:59, tpad:2, title:'Average grades, children', titlePad:{top:0,bottom:1}},
  y:{pos:'right', min:1.485, max:10.515, ticks:cebTicks, labels:cebLabels, size:67, tpad:2},
  text:{text:'E. Child grades vs. fertility', y:23, rightTitle:'Average CEB at age 40', rx:403},
  survLine:E_survLine, cellLine:E_cellLine, surv:E_surv, cells:E_cells });
</script>
</body></html>
